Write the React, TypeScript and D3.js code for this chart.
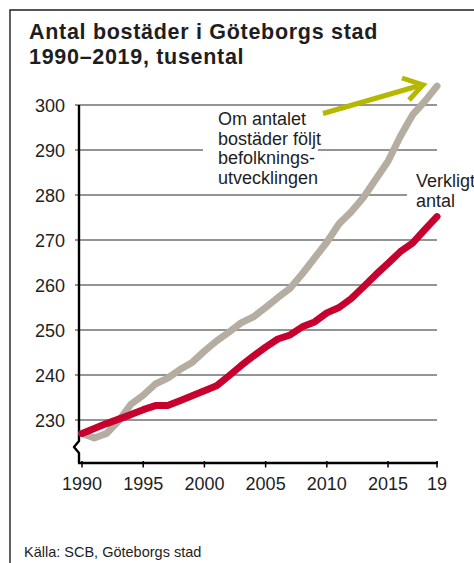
import React, { useEffect, useRef } from 'react';
import * as d3 from 'd3';

const years = d3.range(1990, 2020);

// Verkligt antal bostäder, tusental
const actual = [
  227.0, 228.1, 229.2, 230.2, 231.2, 232.3, 233.2, 233.2, 234.3, 235.4,
  236.5, 237.6, 239.8, 242.1, 244.2, 246.2, 248.0, 248.9, 250.7, 251.8,
  253.8, 255.0, 257.0, 259.6, 262.3, 264.8, 267.4, 269.3, 272.3, 275.2,
];

// Om antalet bostäder följt befolkningsutvecklingen
const population = [
  227.0, 226.0, 227.0, 229.8, 233.5, 235.5, 238.0, 239.3, 241.2, 242.8,
  245.3, 247.6, 249.5, 251.6, 252.9, 255.0, 257.2, 259.3, 262.5, 266.0,
  269.5, 273.6, 276.3, 279.5, 283.5, 287.5, 293.0, 297.8, 300.8, 304.2,
];

const yTicks = [230, 240, 250, 260, 270, 280, 290, 300];
const xTicks = [1990, 1995, 2000, 2005, 2010, 2015, 2019];
const xTickLabels = ['1990', '1995', '2000', '2005', '2010', '2015', '19'];

const titleLines = ['Antal bostäder i Göteborgs stad', '1990–2019, tusental'];
const noteLines = ['Om antalet', 'bostäder följt', 'befolknings-', 'utvecklingen'];
const actualLabel = ['Verkligt', 'antal'];
const source = 'Källa: SCB, Göteborgs stad';

const App: React.FC = () => {
  const svgRef = useRef(null);

  useEffect(() => {
    const W = 474;
    const H = 563;
    const font = '"Liberation Sans", Arial, Helvetica, sans-serif';
    const ink = '#1e1e1e';

    const svg = d3.select(svgRef.current).attr('width', W).attr('height', H);
    svg.selectAll('*').remove();

    const x = d3.scaleLinear().domain([1990, 2019]).range([82, 437]);
    const y = d3.scaleLinear().domain([230, 300]).range([420, 105]);
    const axisX = 79;
    const axisY = 463;
    const gridRight = 437;

    // frame
    svg.append('path')
      .attr('d', `M10,${H} V10 H${W}`)
      .attr('fill', 'none')
      .attr('stroke', ink)
      .attr('stroke-width', 1.4);

    // title
    svg.append('g')
      .selectAll('text')
      .data(titleLines)
      .enter().append('text')
      .attr('x', 29)
      .attr('y', (d, i) => 39 + i * 24.5)
      .attr('font-family', font)
      .attr('font-weight', 'bold')
      .attr('font-size', 21.5)
      .attr('letter-spacing', 0.7)
      .attr('fill', ink)
      .text(d => d);

    // gridlines, broken where the notes sit
    const gaps: Record<number, [number, number][]> = {
      290: [[203, 318]],
      280: [[407, gridRight]],
    };
    const grid = svg.append('g').attr('stroke', '#707070').attr('stroke-width', 1.3);
    yTicks.forEach(t => {
      let start = axisX - 4;
      const segs: [number, number][] = [];
      (gaps[t] || []).forEach(([a, b]) => {
        segs.push([start, a]);
        start = b;
      });
      if (start < gridRight) segs.push([start, gridRight]);
      segs.forEach(([a, b]) => {
        grid.append('line')
          .attr('x1', a).attr('x2', b)
          .attr('y1', y(t)).attr('y2', y(t));
      });
    });

    // y labels
    svg.append('g')
      .selectAll('text')
      .data(yTicks)
      .enter().append('text')
      .attr('x', 65)
      .attr('y', d => y(d) + 6.5)
      .attr('text-anchor', 'end')
      .attr('font-family', font)
      .attr('font-size', 18)
      .attr('fill', ink)
      .text(d => d);

    // y axis with break
    svg.append('path')
      .attr('d', `M${axisX},${y(300)} V441 L${axisX - 5},447 L${axisX},453 V${axisY}`)
      .attr('fill', 'none')
      .attr('stroke', '#000')
      .attr('stroke-width', 2.4)
      .attr('stroke-linejoin', 'round');

    // x axis
    svg.append('line')
      .attr('x1', axisX - 1).attr('x2', x(2019) + 1)
      .attr('y1', axisY).attr('y2', axisY)
      .attr('stroke', '#000')
      .attr('stroke-width', 2.6);

    svg.append('g')
      .selectAll('line')
      .data(xTicks)
      .enter().append('line')
      .attr('x1', d => x(d)).attr('x2', d => x(d))
      .attr('y1', axisY - 2).attr('y2', axisY + 4.5)
      .attr('stroke', '#000')
      .attr('stroke-width', 1.5);

    svg.append('g')
      .selectAll('text')
      .data(xTicks)
      .enter().append('text')
      .attr('x', d => x(d))
      .attr('y', 490)
      .attr('text-anchor', 'middle')
      .attr('font-family', font)
      .attr('font-size', 18)
      .attr('fill', ink)
      .text((d, i) => xTickLabels[i]);

    // series
    const line = d3.line<number>()
      .x((d, i) => x(years[i]))
      .y(d => y(d));

    svg.append('path')
      .datum(population)
      .attr('d', line)
      .attr('fill', 'none')
      .attr('stroke', '#b5ada2')
      .attr('stroke-width', 7)
      .attr('stroke-linejoin', 'round')
      .attr('stroke-linecap', 'round');

    svg.append('path')
      .datum(actual)
      .attr('d', line)
      .attr('fill', 'none')
      .attr('stroke', '#c8002e')
      .attr('stroke-width', 7)
      .attr('stroke-linejoin', 'round')
      .attr('stroke-linecap', 'round');

    // notes
    svg.append('g')
      .selectAll('text')
      .data(noteLines)
      .enter().append('text')
      .attr('x', 218)
      .attr('y', (d, i) => 125 + i * 19.7)
      .attr('font-family', font)
      .attr('font-size', 18)
      .attr('fill', ink)
      .text(d => d);

    svg.append('g')
      .selectAll('text')
      .data(actualLabel)
      .enter().append('text')
      .attr('x', 416)
      .attr('y', (d, i) => 187 + i * 19.5)
      .attr('font-family', font)
      .attr('font-size', 18)
      .attr('fill', ink)
      .text(d => d);

    // green arrow
    const green = '#b6b800';
    svg.append('line')
      .attr('x1', 323).attr('y1', 113.5)
      .attr('x2', 418).attr('y2', 86)
      .attr('stroke', green)
      .attr('stroke-width', 5);
    svg.append('path')
      .attr('d', 'M402,78 L423,85 L409,100')
      .attr('fill', 'none')
      .attr('stroke', green)
      .attr('stroke-width', 5)
      .attr('stroke-linejoin', 'miter');

    // source
    svg.append('text')
      .attr('x', 24)
      .attr('y', 557)
      .attr('font-family', font)
      .attr('font-size', 14.5)
      .attr('fill', ink)
      .text(source);
  }, []);

  return (
    <svg ref={svgRef} style={{ position: 'absolute', left: 0, top: 0, display: 'block' }}></svg>
  );
};

export default App;
